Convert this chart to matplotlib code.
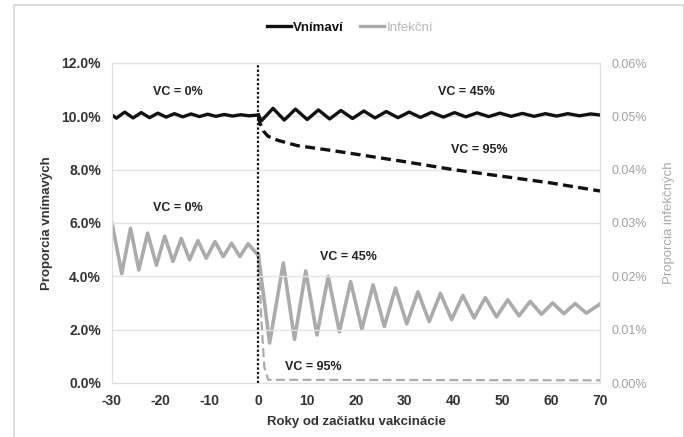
import matplotlib
matplotlib.use("Agg")
import matplotlib.pyplot as plt
from matplotlib.patches import Rectangle
from matplotlib.ticker import FuncFormatter

plt.rcParams['font.family'] = ['Liberation Sans', 'DejaVu Sans']
plt.rcParams['axes.unicode_minus'] = False

# susceptible (left axis, %)
sus_pre_x = [-30, -29.1, -27.4, -25.7, -24.0, -22.3, -20.6, -18.9, -17.2, -15.5,
             -13.8, -12.1, -10.4, -8.7, -7.0, -5.3, -3.6, -1.9, 0]
sus_pre_y = [10.05, 9.93, 10.16, 9.94, 10.14, 9.95, 10.12, 9.97, 10.10, 9.98,
             10.09, 9.99, 10.08, 10.00, 10.07, 10.01, 10.06, 10.02, 10.05]

sus45_x = [0, 0.6, 3.0, 5.3, 7.6, 10.0, 12.3, 14.6, 16.9, 19.3, 21.6, 23.9, 26.2,
           28.6, 30.9, 33.2, 35.5, 37.9, 40.2, 42.5, 44.8, 47.2, 49.5, 51.8, 54.1,
           56.5, 58.8, 61.1, 63.4, 65.8, 68.1, 70]
sus45_y = [10.05, 9.83, 10.30, 9.86, 10.27, 9.88, 10.24, 9.90, 10.22, 9.92, 10.20,
           9.94, 10.18, 9.95, 10.16, 9.96, 10.15, 9.97, 10.14, 9.98, 10.13, 9.99,
           10.12, 10.00, 10.11, 10.00, 10.10, 10.01, 10.10, 10.02, 10.09, 10.05]

sus95_x = [0, 0.3, 1, 2, 4, 8, 15, 20, 30, 40, 50, 60, 70]
sus95_y = [10.0, 9.75, 9.45, 9.25, 9.1, 8.9, 8.72, 8.58, 8.3, 8.0, 7.75, 7.5, 7.2]

# infected (right axis, %)
inf_pre_x = [-30, -28.0, -26.2, -24.5, -22.7, -20.9, -19.2, -17.5, -15.8, -14.1,
             -12.4, -10.7, -8.9, -7.2, -5.5, -3.8, -2.1, -0.4, 0]
inf_pre_y = [0.0300, 0.0205, 0.0290, 0.0212, 0.0281, 0.0221, 0.0275, 0.0228, 0.0271,
             0.0231, 0.0267, 0.0234, 0.0265, 0.0237, 0.0262, 0.0237, 0.0261, 0.0243,
             0.0240]

inf45_x = [0, 2.3, 5.1, 7.4, 9.7, 12.0, 14.3, 16.6, 18.9, 21.2, 23.5, 25.8, 28.1,
           30.4, 32.7, 35.0, 37.3, 39.6, 41.9, 44.2, 46.5, 48.8, 51.1, 53.4, 55.7,
           58.0, 60.3, 62.6, 64.9, 67.2, 70]
inf45_y = [0.0240, 0.0075, 0.0225, 0.0082, 0.0210, 0.0090, 0.0200, 0.0096, 0.0190,
           0.0101, 0.0184, 0.0106, 0.0178, 0.0111, 0.0171, 0.0115, 0.0168, 0.0119,
           0.0164, 0.0122, 0.0160, 0.0124, 0.0156, 0.0126, 0.0153, 0.0129, 0.0150,
           0.0130, 0.0149, 0.0131, 0.0148]

inf95_x = [0, 0.6, 1.2, 2, 70]
inf95_y = [0.0240, 0.0120, 0.0030, 0.0006, 0.0005]

black = '#111111'
grey = '#ababab'

fig = plt.figure(figsize=(6.84, 4.37), dpi=100)
fig.add_artist(Rectangle((14 / 684, -0.01), 670 / 684, 1 - 5 / 437 + 0.01,
                         transform=fig.transFigure, fill=False,
                         edgecolor='#d6d6d6', lw=1.2))
ax = fig.add_axes([112 / 684, 1 - 383 / 437, 488 / 684, 320 / 437])
ax2 = ax.twinx()
ax.set_zorder(ax2.get_zorder() + 1)
ax.patch.set_visible(False)

ax2.plot(inf_pre_x, inf_pre_y, color=grey, lw=2.6, solid_joinstyle='round')
ax2.plot(inf45_x, inf45_y, color=grey, lw=2.6, solid_joinstyle='round')
ax2.plot(inf95_x, inf95_y, color=grey, lw=1.6, ls=(0, (4, 2)))
ax2.set_ylim(0, 0.06)
ax2.set_yticks([0, 0.01, 0.02, 0.03, 0.04, 0.05, 0.06])
ax2.yaxis.set_major_formatter(FuncFormatter(lambda v, p: f'{v:.2f}%'))

ax.plot(sus_pre_x, sus_pre_y, color=black, lw=2.4, solid_joinstyle='round')
ax.plot(sus45_x, sus45_y, color=black, lw=2.4, solid_joinstyle='round')
ax.plot(sus95_x, sus95_y, color=black, lw=2.4, ls=(0, (3, 1.6)))
ax.axvline(0, color=black, lw=1.6, ls=(0, (1, 1)))

ax.set_xlim(-30, 70)
ax.set_ylim(0, 12)
ax.set_xticks(range(-30, 71, 10))
ax.set_yticks([0, 2, 4, 6, 8, 10, 12])
ax.yaxis.set_major_formatter(FuncFormatter(lambda v, p: f'{v:.1f}%'))
ax.grid(axis='y', color='#e3e3e3', lw=1)
ax2.grid(False)
ax.set_axisbelow(True)

for a in (ax, ax2):
    for s in a.spines.values():
        s.set_color('#e0e0e0')
    a.tick_params(length=0, pad=8)

for lab in ax.get_yticklabels() + ax.get_xticklabels():
    lab.set_fontweight('bold')
    lab.set_color('#333333')
    lab.set_fontsize(10)
for lab in ax2.get_yticklabels():
    lab.set_color('#a0a0a0')
    lab.set_fontsize(9)

ax.set_xlabel('Roky od začiatku vakcinácie', fontsize=9.5, fontweight='bold',
              color='#333333', labelpad=6)
ax.set_ylabel('Proporcia vnímavých', fontsize=9.5, fontweight='bold',
              color='#333333', labelpad=6)
ax2.set_ylabel('Proporcia infekčných', fontsize=9.5, color='#a8a8a8', labelpad=12)

ann = dict(fontsize=9, fontweight='bold', color='#222222', ha='center', va='center')
ax.text(-16.5, 10.92, 'VC = 0%', **ann)
ax.text(-16.5, 6.55, 'VC = 0%', **ann)
ax.text(42.6, 10.92, 'VC = 45%', **ann)
ax.text(45.2, 8.74, 'VC = 95%', **ann)
ax.text(18.4, 4.74, 'VC = 45%', **ann)
ax.text(11.2, 0.61, 'VC = 95%', **ann)

h1, = ax.plot([], [], color=black, lw=2.4)
h2, = ax.plot([], [], color=grey, lw=2.4)
leg = fig.legend([h1, h2], ['Vnímaví', 'Infekční'], loc='center',
                 bbox_to_anchor=(350 / 684, 1 - 28 / 437), ncol=2, frameon=False,
                 fontsize=9.5, handlelength=1.8, handletextpad=0.2, columnspacing=1.2)
leg.get_texts()[0].set_fontweight('bold')
leg.get_texts()[0].set_color(black)
leg.get_texts()[1].set_color('#b8b8b8')

fig.savefig('out.png', dpi=100)
